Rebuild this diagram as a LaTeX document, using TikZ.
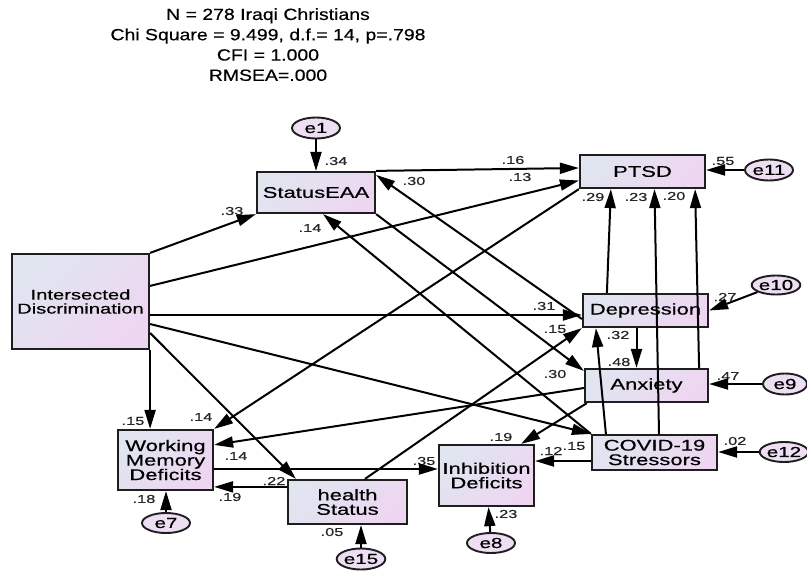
\documentclass[tikz,border=0pt]{standalone}
\usepackage{fontspec}
\setmainfont{Liberation Sans}
\newfontfamily\boxfont[FakeStretch=1.42, FakeBold=0.5]{Liberation Sans}
\newfontfamily\titlefont[FakeStretch=1.2, FakeBold=0.4]{Liberation Sans}
\definecolor{boxblue}{RGB}{224, 229, 240}
\definecolor{boxpink}{RGB}{238, 214, 241}
\definecolor{errpink}{RGB}{238, 222, 243}
\definecolor{edgegray}{RGB}{30, 30, 30}
\usetikzlibrary{shapes.geometric, arrows.meta, calc}

\begin{document}
\begin{tikzpicture}[x=1pt, y=-1pt,
  box/.style={draw=edgegray, line width=2.2pt, top color=boxblue, bottom color=boxpink, shading angle=45,
    inner sep=0pt, align=center, font=\boxfont\fontsize{15.5}{14.5}\selectfont},
  err/.style={ellipse, draw=edgegray, line width=1.9pt, fill=errpink, inner sep=0pt,
    minimum width=48pt, minimum height=21pt, font=\boxfont\fontsize{14.5}{14}\selectfont},
  wt/.style={inner sep=0pt, text=black!85, font=\boxfont\fontsize{11.5}{12}\selectfont},
  reg/.style={-{Triangle[length=19pt, width=11pt]}, line width=2pt, draw=black}]

  \useasboundingbox (0,0) rectangle (807,571);
  \fill[white] (0,0) rectangle (807,571);

  \node[font=\titlefont\fontsize{16.2}{20.3}\selectfont, align=center, anchor=north, inner sep=0pt] (title) at (268,8)
    {N = 278 Iraqi Christians\\Chi Square = 9.499, d.f.= 14, p=.798\\CFI = 1.000\\RMSEA=.000};

  % observed variables
  \node[box, minimum width=137pt, minimum height=95pt, font=\boxfont\fontsize{14.2}{14}\selectfont] (idisc) at (80.5,301.5) {Intersected\\Discrimination};
  \node[box, minimum width=118pt, minimum height=41pt] (sea) at (316,192.5) {StatusEAA};
  \node[box, minimum width=125pt, minimum height=33pt] (ptsd) at (642.5,171.5) {PTSD};
  \node[box, minimum width=125pt, minimum height=33pt] (dep) at (645.5,310.5) {Depression};
  \node[box, minimum width=123pt, minimum height=33pt] (anx) at (646.5,385.5) {Anxiety};
  \node[box, minimum width=125pt, minimum height=35pt] (covid) at (654.5,452.5) {COVID-19\\Stressors};
  \node[box, minimum width=95pt, minimum height=60pt] (wmd) at (165.5,460) {Working\\Memory\\Deficits};
  \node[box, minimum width=119pt, minimum height=44pt] (hs) at (347.5,502) {health\\Status};
  \node[box, minimum width=95pt, minimum height=61pt] (inh) at (486.5,475.5) {Inhibition\\Deficits};

  % error terms
  \node[err] (e1) at (316,128) {e1};
  \node[err] (e11) at (769,170) {e11};
  \node[err, minimum width=46pt, minimum height=19pt] (e10) at (776,285) {e10};
  \node[err, minimum width=44pt] (e9) at (785,384) {e9};
  \node[err, minimum width=46pt, minimum height=20pt] (e12) at (784,452) {e12};
  \node[err, minimum height=20pt] (e7) at (166,523) {e7};
  \node[err] (e15) at (361,559) {e15};
  \node[err, minimum height=20pt] (e8) at (491,543) {e8};

  % estimates
  \node[wt] (w-e1) at (336,161) {.34};
  \node[wt] (w-id-sea) at (232,211) {.33};
  \node[wt] (w-sea-ptsd) at (513,160) {.16};
  \node[wt] (w-id-ptsd) at (520,177) {.13};
  \node[wt] (w-dep-sea) at (414,181) {.30};
  \node[wt] (w-cov-sea) at (310,228) {.14};
  \node[wt] (w-e11) at (723,161) {.55};
  \node[wt] (w-dep-ptsd) at (593,197) {.29};
  \node[wt] (w-cov-ptsd) at (636,197) {.23};
  \node[wt] (w-anx-ptsd) at (674,196) {.20};
  \node[wt] (w-e10) at (725,297) {.27};
  \node[wt] (w-id-dep) at (544,306) {.31};
  \node[wt] (w-hs-dep) at (555,329) {.15};
  \node[wt] (w-sea-anx) at (555,374) {.30};
  \node[wt] (w-cov-dep) at (618,335) {.32};
  \node[wt] (w-dep-anx) at (619,362) {.48};
  \node[wt] (w-e9) at (728,376) {.47};
  \node[wt] (w-e12) at (735,441) {.02};
  \node[wt] (w-id-cov) at (574,446) {.15};
  \node[wt] (w-cov-inh) at (551,451) {.12};
  \node[wt] (w-anx-inh) at (501,437) {.19};
  \node[wt] (w-wmd-inh) at (424,461) {.35};
  \node[wt] (w-e8) at (506,514) {.23};
  \node[wt] (w-e15) at (332,532) {.05};
  \node[wt] (w-id-hs) at (274,481) {.22};
  \node[wt] (w-hs-wmd) at (230,497) {.19};
  \node[wt] (w-anx-wmd) at (236,456) {.14};
  \node[wt] (w-ptsd-wmd) at (201,417) {.14};
  \node[wt] (w-id-wmd) at (133,421) {.15};
  \node[wt] (w-e7) at (144,499) {.18};

  % paths
  \draw[reg] (idisc.north east) -- (sea.south west);
  \draw[reg] ([yshift=-33pt]idisc.north east) -- ([yshift=-9pt]ptsd.west);
  \draw[reg] ([yshift=-13.5pt]idisc.east) -- ([yshift=-4.5pt]dep.west);
  \draw[reg] ([yshift=-22.5pt]idisc.east) -- (covid.north west);
  \draw[reg] ([yshift=-31.5pt]idisc.east) -- ([xshift=9pt]hs.north west);
  \draw[reg] (idisc.south east) -- (idisc.south east |- wmd.north);
  \draw[reg] (sea.north east) -- ([yshift=3.5pt]ptsd.west);
  \draw[reg] ([yshift=-8.5pt]dep.west) -- ([yshift=-4pt]sea.north east);
  \draw[reg] (sea.south east) -- ([yshift=-3pt]anx.north west);
  \draw[reg] (covid.north west) -- ([xshift=7pt]sea.south);
  \draw[reg] (ptsd.south west) -- (wmd.north east);
  \draw[reg] ([yshift=-2.5pt]anx.west) -- ([yshift=-16pt]wmd.north east);
  \draw[reg] ([xshift=17.5pt]hs.north) -- (dep.south west);
  \draw[reg] ([yshift=-9pt]wmd.east) coordinate (wi) -- (inh.west |- wi);
  \draw[reg] ([yshift=-8pt]hs.north west) coordinate (hw) -- (wmd.east |- hw);
  \draw[reg] ([xshift=3pt]anx.south west) -- ([xshift=-14pt]inh.north east);
  \draw[reg] ([yshift=-8.5pt]covid.west) coordinate (ci) -- (inh.east |- ci);
  \draw[reg] ([xshift=15pt]covid.north west) -- ([xshift=14pt]dep.south west);
  \draw[reg] ([xshift=4.5pt]covid.north) -- ([xshift=12pt]ptsd.south);
  \draw[reg] ([xshift=-10pt]anx.north east) -- ([xshift=-11pt]ptsd.south east);
  \draw[reg] ([xshift=25pt]dep.north west) -- ([xshift=32pt]ptsd.south west);
  \draw[reg] ([xshift=-9pt]dep.south) coordinate (da) -- (da |- anx.north);

  \draw[reg] (e1) -- (sea);
  \draw[reg] (e11) -- (ptsd.east |- e11);
  \draw[reg] (e10) -- (dep.east);
  \draw[reg] (e9) -- (anx.east |- e9);
  \draw[reg] (e12) -- (covid.east |- e12);
  \draw[reg] (e7) -- (e7 |- wmd.south);
  \draw[reg] (e15) -- (e15 |- hs.south);
  \draw[reg] (e8) -- ([xshift=2pt]inh.south);
\end{tikzpicture}
\end{document}
